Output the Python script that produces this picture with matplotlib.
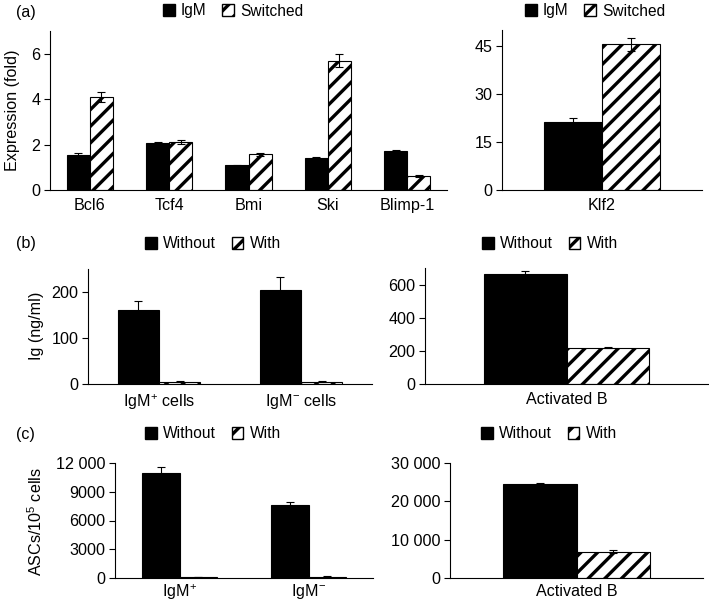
import numpy as np
import matplotlib
matplotlib.use("Agg")
from matplotlib import pyplot as plt
from matplotlib.patches import Patch
from matplotlib.ticker import FuncFormatter

plt.rcParams["font.family"] = ["Liberation Sans", "DejaVu Sans"]
plt.rcParams["font.size"] = 11
plt.rcParams["xtick.labelsize"] = 11.6
plt.rcParams["ytick.labelsize"] = 11.6
plt.rcParams["mathtext.fontset"] = "custom"
plt.rcParams["mathtext.rm"] = "Liberation Sans"
plt.rcParams["mathtext.it"] = "Liberation Sans:italic"
plt.rcParams["hatch.linewidth"] = 2.4
plt.rcParams["axes.linewidth"] = 0.8

# (a) gene expression
a_genes = ["Bcl6", "Tcf4", "Bmi", "Ski", "Blimp-1"]
a_igm = [1.55, 2.05, 1.08, 1.40, 1.70]
a_igm_err = [0.08, 0.07, 0.04, 0.07, 0.06]
a_sw = [4.08, 2.12, 1.58, 5.70, 0.62]
a_sw_err = [0.22, 0.08, 0.07, 0.28, 0.03]
klf2_label = ["Klf2"]
klf2_igm = [21.3]
klf2_igm_err = [1.1]
klf2_sw = [45.5]
klf2_sw_err = [2.1]

# (b) Ig secretion
b_cells = [r"IgM$^{+}$ cells", r"IgM$^{-}$ cells"]
b_without = [160, 205]
b_without_err = [21, 27]
b_with = [5, 5]
b_with_err = [1, 1]
b_act = ["Activated B"]
b_act_without = [662]
b_act_without_err = [22]
b_act_with = [220]
b_act_with_err = [4]

# (c) ASCs
c_cells = [r"IgM$^{+}$", r"IgM$^{-}$"]
c_without = [11000, 7600]
c_without_err = [550, 350]
c_with = [120, 130]
c_with_err = [30, 40]
c_act = ["Activated B"]
c_act_without = [24500]
c_act_without_err = [300]
c_act_with = [6900]
c_act_with_err = [450]

W, H = 709, 603
fig = plt.figure(figsize=(W / 100, H / 100), dpi=100)


def px_axes(x0, x1, ytop, ybot):
    return fig.add_axes([x0 / W, (H - ybot) / H, (x1 - x0) / W, (ybot - ytop) / H])


def space_fmt(v, pos):
    if v >= 10000:
        return f"{v:,.0f}".replace(",", " ")
    return f"{v:.0f}"


def draw(ax, labels, v1, e1, v2, e2, ylim, yticks, width=0.29, fmt=None, xpad=6):
    x = np.arange(len(labels))
    ax.bar(x - width / 2, v1, width, color="black", edgecolor="black",
           linewidth=0.8, zorder=2)
    ax.bar(x + width / 2, v2, width, color="white", edgecolor="black",
           hatch="//", linewidth=0.8, zorder=2)
    ax.errorbar(x - width / 2, v1, yerr=e1, fmt="none", ecolor="black",
                elinewidth=0.8, capsize=3, capthick=0.8, zorder=3)
    ax.errorbar(x + width / 2, v2, yerr=e2, fmt="none", ecolor="black",
                elinewidth=0.8, capsize=3, capthick=0.8, zorder=3)
    ax.set_xlim(-0.5, len(labels) - 0.5)
    ax.set_ylim(*ylim)
    ax.set_yticks(yticks)
    if fmt is not None:
        ax.yaxis.set_major_formatter(FuncFormatter(fmt))
    ax.set_xticks(x)
    ax.set_xticklabels(labels)
    ax.tick_params(axis="x", length=0, pad=xpad)
    ax.tick_params(axis="y", length=4, width=0.8, direction="out", pad=3)
    ax.spines["top"].set_visible(False)
    ax.spines["right"].set_visible(False)


def legend(cx, y, names):
    handles = [Patch(facecolor="black", edgecolor="black"),
               Patch(facecolor="white", edgecolor="black", hatch="//")]
    fig.legend(handles, names, loc="center", bbox_to_anchor=(cx / W, 1 - y / H),
               ncol=2, frameon=False, handlelength=0.75, handleheight=0.75,
               handletextpad=0.4, columnspacing=1.0, borderpad=0,
               fontsize=11.2)


# (a)
ax = px_axes(50, 447, 31, 190)
draw(ax, a_genes, a_igm, a_igm_err, a_sw, a_sw_err, (0, 7), [0, 2, 4, 6])
ax = px_axes(502, 702, 30, 190)
draw(ax, klf2_label, klf2_igm, klf2_igm_err, klf2_sw, klf2_sw_err, (0, 50),
     [0, 15, 30, 45])
legend(233, 11, ["IgM", "Switched"])
legend(595, 11, ["IgM", "Switched"])
fig.text(12 / W, 1 - 110 / H, "Expression (fold)", rotation=90,
         ha="center", va="center", fontsize=11.6)

# (b)
ax = px_axes(88, 372, 269, 384)
draw(ax, b_cells, b_without, b_without_err, b_with, b_with_err, (0, 250),
     [0, 100, 200])
ax = px_axes(425, 708, 268, 384)
draw(ax, b_act, b_act_without, b_act_without_err, b_act_with, b_act_with_err,
     (0, 700), [0, 200, 400, 600])
legend(213, 244, ["Without", "With"])
legend(550, 244, ["Without", "With"])
fig.text(36 / W, 1 - 326 / H, "Ig (ng/ml)", rotation=90, ha="center",
         va="center", fontsize=11.6)

# (c)
ax = px_axes(115, 373, 463, 578)
draw(ax, c_cells, c_without, c_without_err, c_with, c_with_err, (0, 12000),
     [0, 3000, 6000, 9000, 12000], fmt=space_fmt, xpad=3)
ax = px_axes(450, 703, 463, 578)
draw(ax, c_act, c_act_without, c_act_without_err, c_act_with, c_act_with_err,
     (0, 30000), [0, 10000, 20000, 30000], fmt=space_fmt, xpad=4)
legend(213, 434, ["Without", "With"])
legend(549, 434, ["Without", "With"])
fig.text(36 / W, 1 - 522 / H, r"ASCs/10$^{5}$ cells", rotation=90,
         ha="center", va="center", fontsize=11.6)

# panel letters
fig.text(16 / W, 1 - 13 / H, "(a)", ha="left", va="center", fontsize=11.6)
fig.text(16 / W, 1 - 244 / H, "(b)", ha="left", va="center", fontsize=11.6)
fig.text(16 / W, 1 - 434 / H, "(c)", ha="left", va="center", fontsize=11.6)

fig.savefig("out.png", dpi=100)
